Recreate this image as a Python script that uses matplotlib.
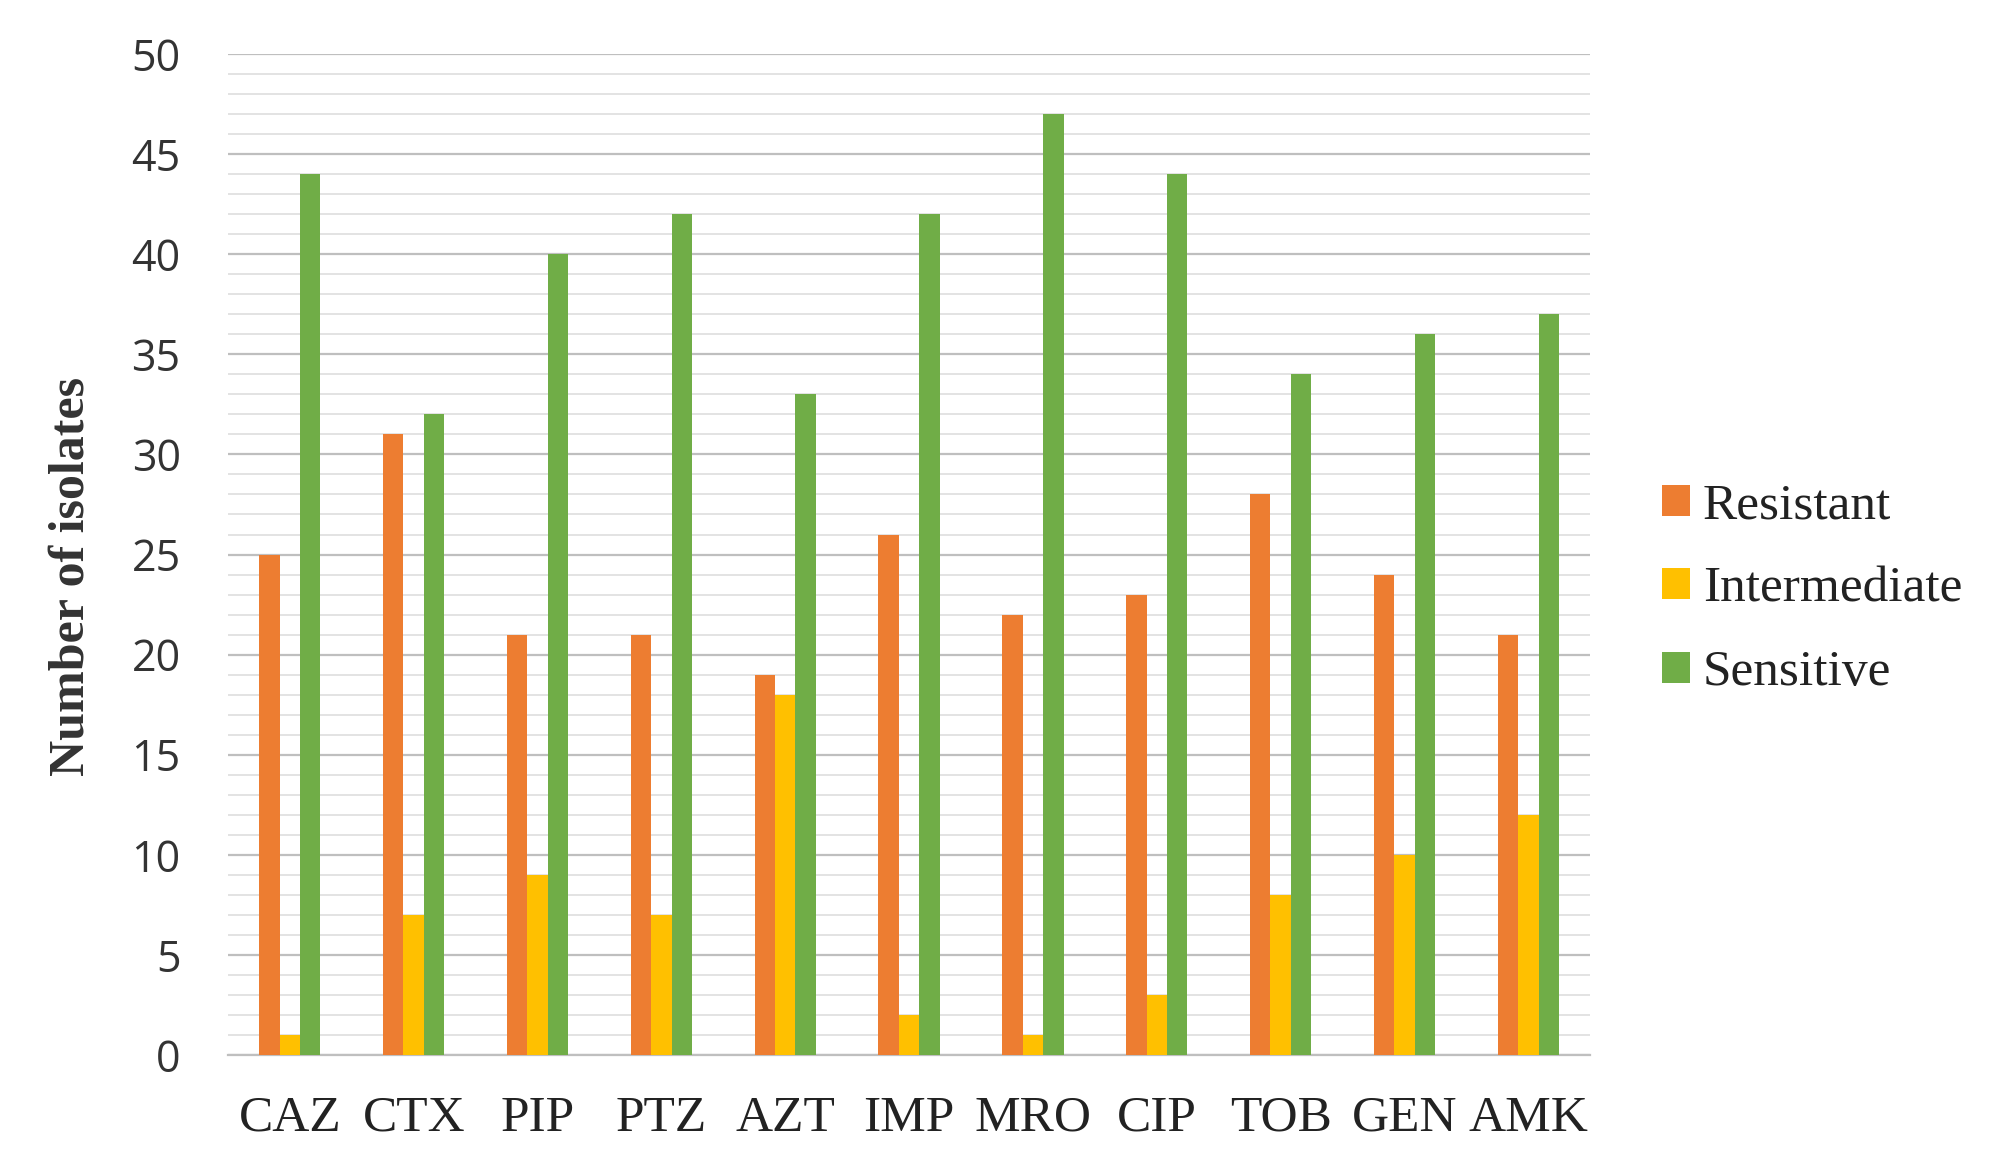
import numpy as np
import matplotlib
matplotlib.use('Agg')
import matplotlib.pyplot as plt
from matplotlib.ticker import MultipleLocator

# antibiotic categories and isolate counts
drugs = ['CAZ', 'CTX', 'PIP', 'PTZ', 'AZT', 'IMP', 'MRO', 'CIP', 'TOB', 'GEN', 'AMK']
resistant = [25, 31, 21, 21, 19, 26, 22, 23, 28, 24, 21]
intermediate = [1, 7, 9, 7, 18, 2, 1, 3, 8, 10, 12]
sensitive = [44, 32, 40, 42, 33, 42, 47, 44, 34, 36, 37]

series = [('Resistant', resistant, '#ED7D31'),
          ('Intermediate', intermediate, '#FFC000'),
          ('Sensitive', sensitive, '#70AD47')]

SERIF = 'Liberation Serif'
SANS = 'Open Sans'

fig = plt.figure(figsize=(20.08, 11.70), dpi=100)
ax = fig.add_axes([0.1135, 0.0983, 0.792 - 0.1135, 0.9538 - 0.0983])

x = np.arange(len(drugs))
w = 0.165
for i, (name, vals, col) in enumerate(series):
    ax.bar(x + (i - 1) * w, vals, w, color=col, label=name, zorder=3)

ax.set_xlim(-0.5, len(drugs) - 0.5)
ax.set_ylim(0, 50)
ax.yaxis.set_major_locator(MultipleLocator(5))
ax.yaxis.set_minor_locator(MultipleLocator(1))
ax.grid(which='major', axis='y', color='#BFBFBF', lw=1.6, zorder=0)
ax.grid(which='minor', axis='y', color='#E3E3E3', lw=1.4, zorder=0)
for s in ['top', 'right', 'left']:
    ax.spines[s].set_visible(False)
ax.spines['bottom'].set_color('#BFBFBF')
ax.spines['bottom'].set_linewidth(1.6)
ax.tick_params(which='both', length=0)
ax.tick_params(axis='y', pad=34, labelsize=31, labelcolor='#333333')
ax.tick_params(axis='x', pad=29)

ax.set_xticks(x)
ax.set_xticklabels(drugs, fontfamily=SERIF, fontsize=37, color='#222222')
for lab in ax.get_yticklabels():
    lab.set_fontfamily(SANS)

ax.set_ylabel('Number of isolates', fontfamily=SERIF, fontweight='bold',
              fontsize=36, color='#333333')
ax.yaxis.set_label_coords(-0.098, 0.478)

leg = fig.legend(loc='center left', bbox_to_anchor=(0.8275, 0.496),
                 frameon=False, borderpad=0, borderaxespad=0,
                 handlelength=0.55, handleheight=0.55,
                 handletextpad=0.25, labelspacing=0.72,
                 prop={'family': SERIF, 'size': 37})
for t in leg.get_texts():
    t.set_color('#222222')

fig.savefig('out.png', dpi=100, facecolor='white')
